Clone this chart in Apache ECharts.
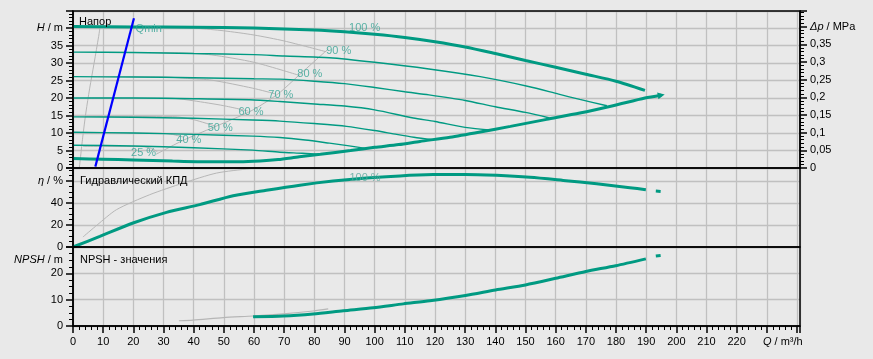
<!DOCTYPE html>
<html><head><meta charset="utf-8">
<script src="https://cdn.jsdelivr.net/npm/echarts@6/dist/echarts.min.js"></script>
<style>html,body{margin:0;padding:0;background:#e9e9e9}#c{width:873px;height:359px}</style>
</head><body><div id="c"></div><script>
// ---------- data ----------
const q100 = [0, 20, 40, 60, 80, 90, 100, 110, 120, 130, 140, 150, 160, 170, 180, 189.6];
const h100 = [40.4, 40.3, 40.2, 40.0, 39.4, 38.9, 38.2, 37.3, 36.1, 34.6, 32.7, 30.7, 28.8, 26.8, 24.8, 22.2];
const q90 = [0, 20, 40, 60, 70, 85, 100, 118, 135, 151, 161, 168, 177];
const h90 = [33.1, 33.0, 32.7, 32.4, 32.0, 31.5, 30.2, 28.3, 26.1, 23.3, 21.1, 19.6, 17.8];
const q80 = [0, 20, 40, 60, 68.6, 80, 90, 100, 110, 118, 130, 140, 150, 158];
const h80 = [26.1, 26.0, 25.8, 25.5, 25.4, 24.8, 24.1, 23.0, 21.8, 20.9, 19.3, 17.5, 15.9, 14.3];
const q70 = [0, 20, 40, 58.6, 68.6, 80, 90, 100, 112.8, 120, 130, 139];
const h70 = [20.0, 20.0, 19.8, 19.5, 19.0, 18.3, 17.7, 16.6, 14.3, 13.3, 11.6, 10.8];
const q60 = [0, 20, 40, 59.6, 68.6, 80, 90.7, 100, 107.3, 113, 119.4];
const h60 = [14.6, 14.5, 14.2, 13.7, 13.4, 12.7, 11.9, 10.7, 9.6, 8.8, 8.1];
const q50 = [0, 20, 40, 59.6, 68.6, 77, 85, 91, 97];
const h50 = [10.2, 10.0, 9.6, 9.1, 8.7, 8.0, 7.1, 6.4, 5.6];
const q40 = [0, 20, 40, 59.6, 68.6, 76, 82];
const h40 = [6.5, 6.3, 5.8, 5.1, 4.5, 4.2, 3.9];
const qMinCurve = [0, 10, 20, 33, 45, 55, 62, 68, 75, 82, 92, 100, 108, 115, 125, 135, 145, 157, 168, 179, 189.6, 195];
const hMinCurve = [2.7, 2.5, 2.3, 2.0, 1.8, 1.8, 2.0, 2.4, 3.2, 3.9, 5.0, 5.9, 6.7, 7.6, 8.8, 10.3, 11.9, 13.9, 15.7, 17.8, 20.0, 20.8];

const grayLeft = [[2.1, 0], [3.2, 8.6], [4.3, 16], [5.5, 22.6], [7.0, 30], [8.5, 37.6], [9.0, 40.5]];
const gray100 = [[9, 40.5], [30, 40.3], [41, 39.9], [50, 39.2], [60, 38.0], [70, 36.3], [84, 33.2]];
const gray90 = [[7.6, 33.0], [35, 32.9], [46, 32.3], [60, 30.2], [74.5, 26.6]];
const gray80 = [[6.3, 26.1], [30, 26.0], [38, 25.6], [46, 25.1], [59.6, 22.8], [67, 21.2]];
const gray70 = [[5.3, 20.0], [33, 19.9], [40, 19.2], [50, 17.8], [58, 16.3]];
const gray60 = [[4.3, 14.7], [33, 14.7], [40, 13.8], [47, 12.0]];
const gray50 = [[3.8, 10.0], [30, 9.9], [33, 9.6], [36.7, 8.8]];
const gray40 = [[3.3, 6.2], [23, 6.1], [26, 5.6], [28, 4.6]];
const grayDiag = [[27.5, 3.9], [36.5, 7.9], [46.5, 11.6], [59, 16.3], [68, 21.2], [75, 26.6], [84.6, 34]];

const qminLine = [[7.4, 0.4], [20.2, 42.8]];

const speedLabelQ = [96.7, 88.1, 78.5, 68.9, 59.0, 48.8, 38.4, 23.4, 25.1];
const speedLabelH = [40.1, 33.5, 26.9, 20.9, 16.1, 11.5, 8.0, 4.3, 39.8];
const speedLabelTxt = ['100 %', '90 %', '80 %', '70 %', '60 %', '50 %', '40 %', '25 %', 'Qmin'];

const qEta = [0, 8.9, 19.9, 31, 42, 53.1, 64.1, 75.2, 86.2, 97.3, 108.4, 119.4, 130, 140.4, 151.5, 162.5, 173.6, 184.6, 189.9];
const eta = [0, 9.6, 21.8, 31.5, 38.5, 46.6, 51.6, 56.2, 59.9, 62.7, 64.6, 65.8, 66.0, 65.1, 63.3, 60.5, 57.5, 53.9, 52.1];
const etaEnd = [[193.2, 50.8], [194.8, 50.5]];
const etaGray = [[3.3, 9.1], [8, 20], [14.4, 33.9], [25.4, 47.5], [36.5, 58.1], [47.6, 67.2], [58.6, 71.2], [66, 73.5]];
const etaLabel = [[96.8, 63, '100 %']];

const qNpsh = [59.7, 69.7, 79.6, 89.6, 99.5, 109.5, 118.3, 130.1, 140.1, 150, 160, 170, 179.9, 189.9];
const npsh = [3.5, 3.8, 4.6, 5.8, 6.9, 8.4, 9.6, 11.6, 13.7, 15.6, 18.1, 20.7, 22.9, 25.5];
const npshEnd = [[193.2, 26.6], [194.8, 26.8]];
const npshGray = [[35.1, 2.0], [39.8, 2.2], [49.8, 3.2], [59.7, 3.8], [69.7, 4.6], [79.6, 5.7], [84.6, 6.5]];

const xTicks = {min: 0, max: 241, step: 10};
const panelTitles = ['Напор', 'Гидравлический КПД', 'NPSH - значения'];

// ---------- chart ----------
const FONT = '"Liberation Sans", Arial, sans-serif';
const TEAL = '#009a82';
const LTEAL = '#34a394';
const GRAY = '#b6b6b6';
const GRID = '#c0c0c0';
const zip = (a, b) => a.map((v, i) => [v, b[i]]);
const near = (v, t) => Math.abs(v - t) < 1e-6;
const isMult = (v, s) => Math.abs(v / s - Math.round(v / s)) < 1e-6;

const rich = { i: { fontStyle: 'italic', fontFamily: FONT, fontSize: 11, color: '#000' } };

function xAxis(gi, labels) {
  return {
    type: 'value', gridIndex: gi, min: xTicks.min, max: xTicks.max, interval: xTicks.step,
    axisLine: { show: labels, lineStyle: { color: '#000', width: 1.5 } },
    axisTick: { show: labels, length: 7, lineStyle: { color: '#000', width: 1.5 } },
    minorTick: { show: labels, splitNumber: 5, length: 4, lineStyle: { color: '#000', width: 1 } },
    axisLabel: {
      show: labels, color: '#000', fontFamily: FONT, fontSize: 11, margin: 10, rich: {
        i: { fontStyle: 'italic', fontFamily: FONT, fontSize: 11, color: '#000', padding: [0, 0, 0, 32] },
        n: { fontFamily: FONT, fontSize: 11, color: '#000' }
      },
      formatter: v => near(v, 230) ? '{i|Q}{n| / m³/h}' : (isMult(v, 10) && v <= 220 ? String(v) : '')
    },
    splitLine: { show: true, lineStyle: { color: GRID, width: 1.3 } }
  };
}
function yAxis(gi, opts) {
  return Object.assign({
    type: 'value', gridIndex: gi, min: 0, position: 'left',
    axisLine: { show: true, lineStyle: { color: '#000', width: 1.5 } },
    axisTick: { show: true, length: 7, lineStyle: { color: '#000', width: 1.5 } },
    minorTick: { show: true, splitNumber: 5, length: 4, lineStyle: { color: '#000', width: 1 } },
    splitLine: { show: true, lineStyle: { color: GRID, width: 1.3 } },
  }, opts);
}
function lbl(fn) { return { color: '#000', fontFamily: FONT, fontSize: 11, margin: 10, rich, formatter: fn }; }

const H_MAX = 44.86, P_MAX = 0.4443, ETA_MAX = 71.8, N_MAX = 30;

const line = (data, xi, yi, color, width, extra) => Object.assign({
  type: 'line', xAxisIndex: xi, yAxisIndex: yi, data, showSymbol: false, symbol: 'none',
  smooth: 0.25, lineStyle: { color, width }, silent: true, z: 2
}, extra || {});

const minData = zip(qMinCurve, hMinCurve).map((p, i, arr) => i === arr.length - 1
  ? { value: p, symbol: 'triangle', symbolSize: 7, symbolRotate: -79, itemStyle: { color: TEAL } } : { value: p, symbol: 'none' });

const series = [
  line(grayLeft, 0, 0, GRAY, 1, { smooth: 0.3 }),
  line(gray100, 0, 0, GRAY, 1), line(gray90, 0, 0, GRAY, 1), line(gray80, 0, 0, GRAY, 1),
  line(gray70, 0, 0, GRAY, 1), line(gray60, 0, 0, GRAY, 1), line(gray50, 0, 0, GRAY, 1),
  line(gray40, 0, 0, GRAY, 1), line(grayDiag, 0, 0, GRAY, 1),
  line(zip(q90, h90), 0, 0, TEAL, 1.4), line(zip(q80, h80), 0, 0, TEAL, 1.4),
  line(zip(q70, h70), 0, 0, TEAL, 1.4), line(zip(q60, h60), 0, 0, TEAL, 1.4),
  line(zip(q50, h50), 0, 0, TEAL, 1.4), line(zip(q40, h40), 0, 0, TEAL, 1.4),
  line(zip(q100, h100), 0, 0, TEAL, 3),
  line(minData, 0, 0, TEAL, 3, { showSymbol: true }),
  line(qminLine, 0, 0, '#0000ff', 2.2, { smooth: false, z: 3 }),
  {
    type: 'scatter', xAxisIndex: 0, yAxisIndex: 0, symbolSize: 0, silent: true, z: 4,
    data: speedLabelQ.map((q, i) => [q, speedLabelH[i], speedLabelTxt[i]]),
    label: { show: true, position: 'inside', formatter: p => p.value[2], color: LTEAL, fontFamily: FONT, fontSize: 11 }
  },
  line(etaGray, 1, 2, GRAY, 1),
  line(zip(qEta, eta), 1, 2, TEAL, 3),
  line(etaEnd, 1, 2, TEAL, 3, { smooth: false }),
  {
    type: 'scatter', xAxisIndex: 1, yAxisIndex: 2, symbolSize: 0, silent: true, z: 4,
    data: etaLabel,
    label: { show: true, position: 'inside', formatter: p => p.value[2], color: '#5aa89c', opacity: 0.8, fontFamily: FONT, fontSize: 11 }
  },
  line(npshGray, 2, 3, GRAY, 1.2),
  line(zip(qNpsh, npsh), 2, 3, TEAL, 3),
  line(npshEnd, 2, 3, TEAL, 3, { smooth: false })
];

const option = {
  animation: false,
  backgroundColor: '#e9e9e9',
  textStyle: { fontFamily: FONT },
  title: [
    { text: panelTitles[0], left: 79, top: 16 },
    { text: panelTitles[1], left: 80, top: 175 },
    { text: panelTitles[2], left: 80, top: 254 }
  ].map(t => Object.assign(t, { padding: 0, textStyle: { fontSize: 11, fontWeight: 'normal', color: '#000', fontFamily: FONT } })),
  grid: [
    { left: 73, right: 73, top: 11, height: 157 },
    { left: 73, right: 73, top: 168, height: 79 },
    { left: 73, right: 73, top: 247, height: 79 }
  ].map(g => Object.assign(g, { show: true, z: 5, borderColor: '#000', borderWidth: 1.5, backgroundColor: 'transparent' })),
  xAxis: [xAxis(0, false), xAxis(1, false), xAxis(2, true)],
  yAxis: [
    yAxis(0, { max: H_MAX, interval: 5,
      axisLabel: lbl(v => near(v, 40) ? '{i|H} / m' : (isMult(v, 5) && v < 40 ? String(v) : '')) }),
    yAxis(0, { position: 'right', max: P_MAX, interval: 0.05, splitLine: { show: false },
      axisLabel: lbl(v => near(v, 0.4) ? '{i|Δp} / MPa' : (isMult(v, 0.05) && v < 0.39 ? String(+v.toFixed(2)).replace('.', ',') : '')) }),
    yAxis(1, { max: ETA_MAX, interval: 20, minorTick: { show: true, splitNumber: 4, length: 4, lineStyle: { color: '#000', width: 1 } },
      axisLabel: lbl(v => near(v, 60) ? '{i|η} / %' : (isMult(v, 20) && v < 60 ? String(v) : '')) }),
    yAxis(2, { max: N_MAX, interval: 10, minorTick: { show: true, splitNumber: 4, length: 4, lineStyle: { color: '#000', width: 1 } },
      axisLabel: lbl(v => (isMult(v, 10) && v < 30 ? String(v) : '')) }),
    yAxis(2, { position: 'left', offset: 0, max: N_MAX, interval: 5, axisLine: { show: false, onZero: false }, axisTick: { show: false }, minorTick: { show: false }, splitLine: { show: false },
      axisLabel: lbl(v => near(v, 25) ? '{i|NPSH} / m' : '') })
  ],
  series
};
echarts.init(document.getElementById('c'), null, { renderer: 'canvas' }).setOption(option);
</script></body></html>
